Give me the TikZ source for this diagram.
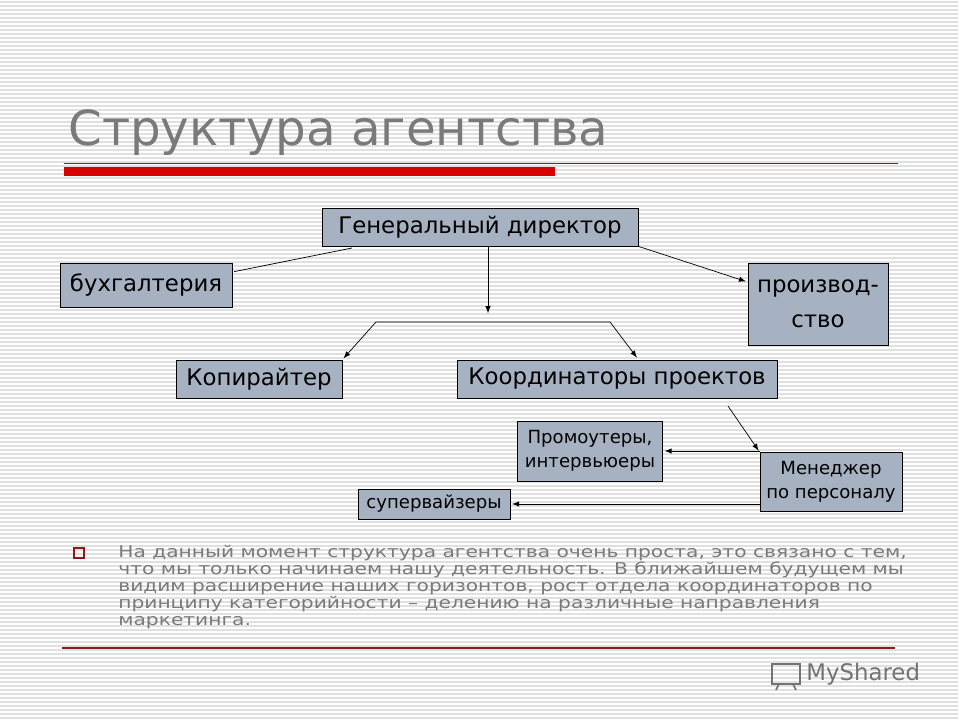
\documentclass[tikz,border=0pt]{standalone}
\usepackage{fontspec}
\setmainfont{DejaVu Sans}
\newfontfamily\bodyfont[FakeStretch=1.25]{DejaVu Sans}
\usetikzlibrary{positioning}
\definecolor{boxfill}{HTML}{A6B2C2}
\definecolor{titlegray}{HTML}{7A7A7A}
\definecolor{bordo}{HTML}{8B1A1A}
\begin{document}
\begin{tikzpicture}[x=0.02cm,y=-0.02cm,->,>=latex,shorten >=1pt,thin,
  main node/.style={rectangle,fill=boxfill,draw,font=\fontsize{13}{16}\selectfont,inner sep=0pt,align=center},
  small node/.style={main node,font=\fontsize{10.3}{13.5}\selectfont}]

  \useasboundingbox (0,0) rectangle (960,720);
  \fill[white] (0,0) rectangle (960,720);
  \foreach \y in {2,6,...,718}
    \draw[-,black!12,line width=0.6pt] (0,\y) -- (960,\y);

  \node[text=titlegray,anchor=base west,font=\fontsize{27.5}{32}\selectfont,inner sep=0pt] (title) at (68,145) {Структура агентства};
  \draw[-,red!80!black,line width=0.5pt] (64,163) -- (900,163);
  \fill[red!85!black] (64,167) rectangle (555,176);

  \node[main node,minimum width=316*0.02cm,minimum height=38*0.02cm] (1) at (480,227) {Генеральный директор};
  \node[main node,minimum width=172*0.02cm,minimum height=44*0.02cm] (2) at (146,285) {бухгалтерия};
  \node[main node,minimum width=140*0.02cm,minimum height=82*0.02cm] (3) at (818,304) {производ-\\[4pt]ство};
  \node[main node,minimum width=166*0.02cm,minimum height=38*0.02cm] (4) at (259,379) {Копирайтер};
  \node[main node,minimum width=320*0.02cm,minimum height=38*0.02cm] (5) at (617,379) {Координаторы проектов};
  \node[small node,minimum width=145*0.02cm,minimum height=60*0.02cm] (6) at (590,451) {Промоутеры,\\интервьюеры};
  \node[small node,minimum width=142*0.02cm,minimum height=59*0.02cm] (7) at (831,482) {Менеджер\\по персоналу};
  \node[small node,minimum width=152*0.02cm,minimum height=30*0.02cm] (8) at (434,504) {супервайзеры};

  \coordinate (down) at (488,246);
  \coordinate (fork) at (488,315);
  \coordinate (bl) at (376,322);
  \coordinate (br) at (610,322);
  \coordinate (kout) at (728,406);

  \path
  (down) edge (fork)
  (1.south east) edge (3.west |- 0,282)
  (kout) edge (7.north west)
  (7.west |- 6.east) edge (6.east)
  (7.west |- 8.east) edge (8.east);
  \draw[-] (352,248) -- (2.east |- 0,272);
  \draw (br) -- (bl) -- (4.north east);
  \draw (br) -- (638,359);

  \draw[-,bordo,line width=1pt] (74,548) rectangle (84,558);
  \node[anchor=north west,text=titlegray,font=\bodyfont\fontsize{9.2}{9.7}\selectfont,align=left,inner sep=0pt] (text) at (118,545)
  {На данный момент структура агентства очень проста, это связано с тем,\\
  что мы только начинаем нашу деятельность. В ближайшем будущем мы\\
  видим расширение наших горизонтов, рост отдела координаторов по\\
  принципу категорийности – делению на различные направления\\
  маркетинга.};
  \draw[-,bordo,line width=0.6pt] (62,648) -- (897,648);

  \node[anchor=west,text=black!55,font=\fontsize{13}{16}\selectfont,inner sep=0pt] (logo) at (806,674) {MyShared};
  \draw[-,black!55,line width=1pt] (772,664) rectangle (800,684) (776,690) -- (779,684) (796,690) -- (793,684);
\end{tikzpicture}
\end{document}
